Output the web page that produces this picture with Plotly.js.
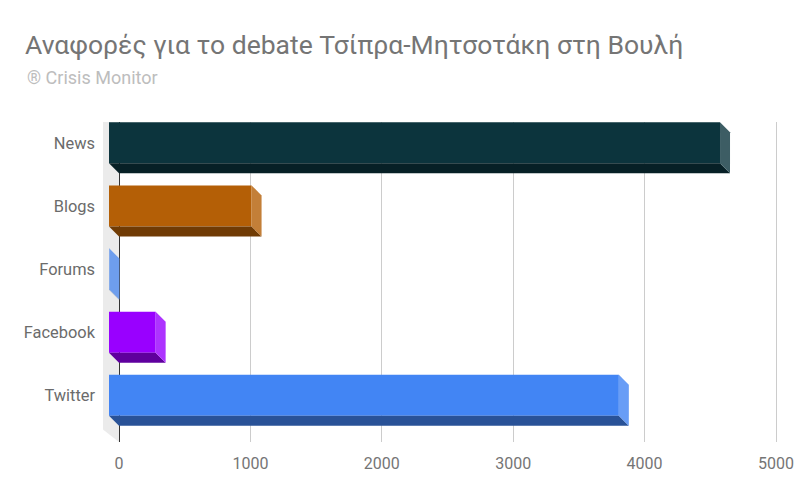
<!DOCTYPE html>
<html>
<head>
<meta charset="utf-8">
<script src="https://cdn.plot.ly/plotly-3.0.1.min.js"></script>
<style>html,body{margin:0;padding:0;background:#fff;}#chart{width:800px;height:495px;}</style>
</head>
<body>
<div id="chart"></div>
<script>
// ---- data ----
const categories = ["News", "Blogs", "Forums", "Facebook", "Twitter"];
const mentions = [4650, 1085, 3, 355, 3880];
const xTickValues = [0, 1000, 2000, 3000, 4000, 5000];
const xTickLabels = ["0", "1000", "2000", "3000", "4000", "5000"];
const barColors = ["#0c343d", "#b45f06", "#4a86e8", "#9900ff", "#4285f4"];

// ---- style / 3D geometry ----
const DX = 76;      // depth offset in x units (~10px)
const DY = 0.158;   // depth offset in category units (~10px)
const H = 0.65;     // front face thickness (category units)

function hexToRgb(h){ const n=parseInt(h.slice(1),16); return [(n>>16)&255,(n>>8)&255,n&255]; }
function rgb(a){ return "rgb(" + a.map(v=>Math.round(Math.max(0,Math.min(255,v)))).join(",") + ")"; }
function lighter(h){ return rgb(hexToRgb(h).map(v=>v*0.8+51)); }
function darker(h){ return rgb(hexToRgb(h).map(v=>v*0.62)); }

const idx = categories.map((c,i)=>i);
const traces = [];

// front faces as bars
traces.push({
  type:"bar", orientation:"h", y:idx, x:mentions,
  base:mentions.map(()=>-DX), width:H,
  marker:{color:barColors, line:{width:0}},
  hoverinfo:"x", showlegend:false
});

// bottom and side faces
mentions.forEach((v,i)=>{
  const top = i - H/2, bot = i + H/2;
  traces.push({
    type:"scatter", mode:"lines", fill:"toself", fillcolor:darker(barColors[i]),
    line:{width:0, color:darker(barColors[i])}, hoverinfo:"skip", showlegend:false,
    x:[-DX, v-DX, v, 0, -DX],
    y:[bot, bot, bot+DY, bot+DY, bot]
  });
  traces.push({
    type:"scatter", mode:"lines", fill:"toself", fillcolor:lighter(barColors[i]),
    line:{width:0, color:lighter(barColors[i])}, hoverinfo:"skip", showlegend:false,
    x:[v-DX, v, v, v-DX, v-DX],
    y:[top, top+DY, bot+DY, bot, top]
  });
});

const layout = {
  width:800, height:495,
  margin:{l:100, r:10, t:122, b:53},
  paper_bgcolor:"#fff", plot_bgcolor:"#fff",
  font:{family:"Roboto, Arial, sans-serif", color:"#666"},
  title:{
    text:"Αναφορές για το debate Τσίπρα-Μητσοτάκη στη Βουλή",
    font:{family:"Roboto", size:26.5, color:"#757575"},
    xref:"container", x:25/800, xanchor:"left",
    yref:"container", y:1-45/495, yanchor:"middle"
  },
  annotations:[{
    text:"® Crisis Monitor", xref:"paper", yref:"paper",
    x:(25-100)/690, y:(442-77)/320, xanchor:"left", yanchor:"middle",
    showarrow:false, font:{family:"Roboto", size:18, color:"#bdbdbd"}
  }],
  shapes:[{
    // back wall at the zero line, beneath the bars
    type:"path", xref:"x", yref:"y", layer:"below",
    path:"M -122,-0.53 L 0,-0.33 L 0,4.74 L -122,4.54 Z",
    fillcolor:"#ebebeb", line:{width:0}
  }],
  xaxis:{
    range:[-144.6, 5106.5], tickvals:xTickValues, ticktext:xTickLabels,
    showgrid:true, gridcolor:"#cccccc", gridwidth:1,
    zeroline:true, zerolinecolor:"#333333", zerolinewidth:1,
    showline:false, ticks:"", ticklabelstandoff:10,
    tickfont:{family:"Roboto", size:16, color:"#757575"}, fixedrange:true
  },
  yaxis:{
    range:[4.74, -0.33], tickvals:idx, ticktext:categories,
    showgrid:false, zeroline:false, showline:false, ticks:"",
    ticklabelstandoff:4,
    tickfont:{family:"Roboto", size:16.4, color:"#6b6b6b"}, fixedrange:true
  },
  showlegend:false
};

Plotly.newPlot("chart", traces, layout, {displayModeBar:false, staticPlot:true});
</script>
</body>
</html>
